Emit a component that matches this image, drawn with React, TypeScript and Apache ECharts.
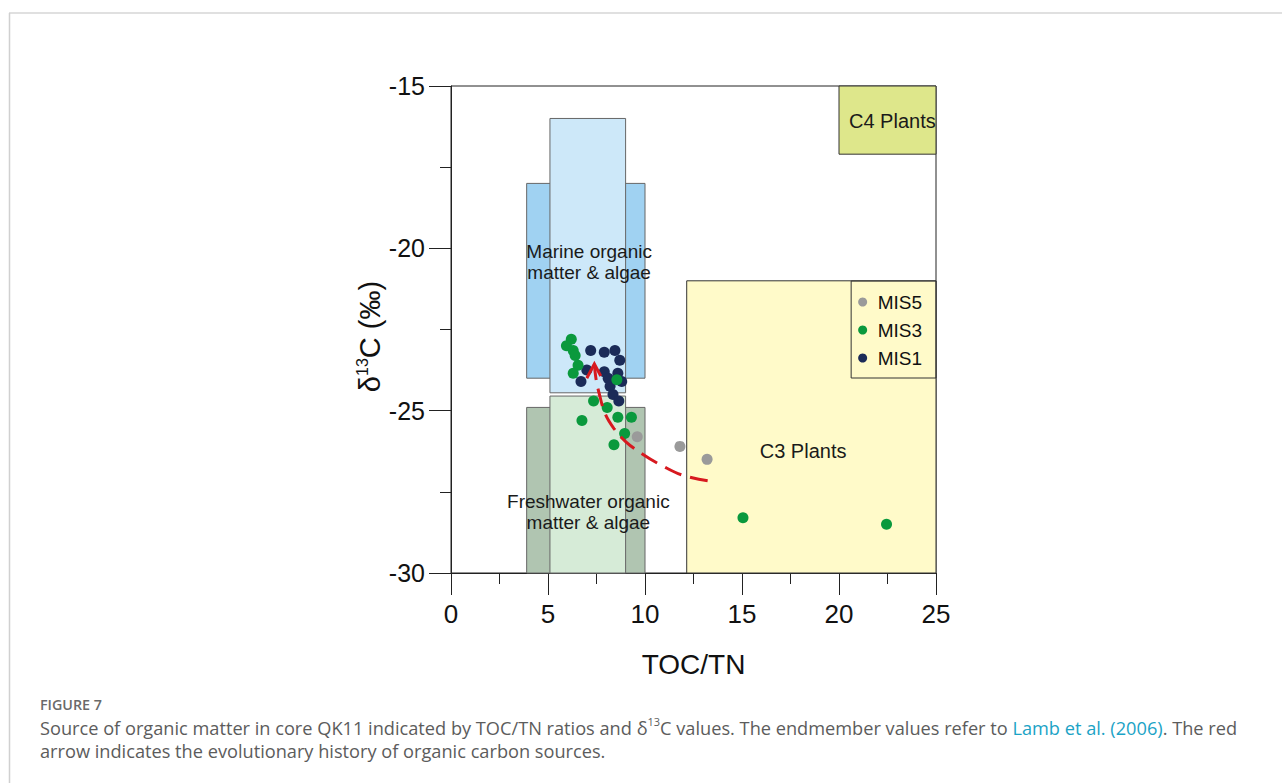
import React, { useEffect, useRef } from 'react';
import * as echarts from 'echarts';

// ---- Data ----
const mis5: number[][] = [[9.6, -25.8], [11.8, -26.1], [13.2, -26.5]];
const mis3: number[][] = [
  [6.2, -22.8], [5.95, -23.0], [6.3, -23.15], [6.4, -23.3], [6.55, -23.6], [6.3, -23.85],
  [8.55, -24.05], [7.35, -24.7], [8.05, -24.9], [6.75, -25.3], [8.6, -25.2], [9.3, -25.2],
  [8.95, -25.7], [8.4, -26.05], [15.05, -28.3], [22.45, -28.5],
];
const mis1: number[][] = [
  [7.2, -23.15], [7.9, -23.2], [8.45, -23.15], [8.7, -23.45], [7.0, -23.75], [7.9, -23.8],
  [8.6, -23.85], [6.7, -24.1], [8.1, -24.0], [8.8, -24.1], [8.2, -24.25], [8.35, -24.5], [8.65, -24.7],
];

// Endmember fields (Lamb et al., 2006)
const regionNames = ['C4 Plants', 'C3 Plants', 'Marine outer', 'Marine inner', 'Freshwater outer', 'Freshwater inner'];
const regionX1 = [20, 12.15, 3.9, 5.1, 3.9, 5.1];
const regionX2 = [25, 25, 10, 9, 10, 9];
const regionYLow = [-17.1, -30, -24, -24.45, -30, -30];
const regionYHigh = [-15, -21, -18, -16, -24.9, -24.55];
const regionColors = ['#dee78b', '#fffac9', '#a0d2f2', '#cde8f9', '#b0c5b1', '#d6ebd7'];
const regionStroke = ['#333333', '#333333', '#666666', '#666666', '#666666', '#666666'];

const labelTexts = ['Marine organic\nmatter & algae', 'Freshwater organic\nmatter & algae', 'C3 Plants', 'C4 Plants'];
const labelX = [7.12, 7.08, 18.15, 22.75];
const labelY = [-20.42, -28.12, -26.25, -16.08];
const labelFontSizes = [19, 19, 20, 20];

// Red arrow: evolution path (start -> tip) and arrow head
const arrowPath: number[][] = [
  [13.23, -27.16], [11.9, -26.98], [10.9, -26.7], [9.9, -26.35], [9.0, -25.95],
  [8.4, -25.55], [7.95, -25.1], [7.65, -24.5], [7.47, -24.0], [7.39, -23.56],
];
const arrowHead: number[][] = [[7.0, -24.0], [7.39, -23.56], [7.72, -23.93]];

const xMin = 0, xMax = 25, xInterval = 5;
const yMin = -30, yMax = -15, yInterval = 5;

const ARIAL = '"Liberation Sans", Arial, Helvetica, sans-serif';
const OPEN = '"Open Sans", "Noto Sans", sans-serif';

export default function App() {
  const ref = useRef<HTMLDivElement>(null);

  useEffect(() => {
    document.body.style.margin = '0';
    document.body.style.overflow = 'hidden';
    if (!ref.current) return;
    const chart = echarts.init(ref.current, undefined, { renderer: 'svg' });

    const regionData = regionNames.map((_, i) => [regionX1[i], regionX2[i], regionYLow[i], regionYHigh[i]]);
    const labelData = labelTexts.map((_, i) => [labelX[i], labelY[i]]);

    const option: any = {
      animation: false,
      backgroundColor: '#ffffff',
      grid: {
        left: 451, top: 86, width: 485, height: 487,
        show: true, borderColor: '#222', borderWidth: 1, backgroundColor: 'transparent',
      },
      legend: {
        data: ['MIS5', 'MIS3', 'MIS1'],
        orient: 'vertical',
        right: 346,
        top: 281,
        icon: 'circle',
        itemWidth: 20,
        itemHeight: 9,
        itemGap: 8,
        padding: [11, 14, 10, 7],
        borderColor: '#333',
        borderWidth: 1,
        borderRadius: 0,
        textStyle: { fontSize: 19, fontFamily: ARIAL, color: '#111', lineHeight: 20 },
      },
      xAxis: {
        type: 'value',
        min: xMin, max: xMax, interval: xInterval,
        name: 'TOC/TN',
        nameLocation: 'middle',
        nameGap: 77,
        nameTextStyle: { fontSize: 28, fontFamily: ARIAL, color: '#111' },
        axisLine: { show: true, onZero: false, lineStyle: { color: '#222', width: 1 } },
        axisTick: { show: true, inside: false, length: 22, lineStyle: { color: '#222', width: 1 } },
        minorTick: { show: true, splitNumber: 2, length: 11, lineStyle: { color: '#222', width: 1 } },
        splitLine: { show: false },
        minorSplitLine: { show: false },
        axisLabel: { fontSize: 26, fontFamily: ARIAL, color: '#111', margin: 28 },
      },
      yAxis: {
        type: 'value',
        min: yMin, max: yMax, interval: yInterval,
        name: '{d|δ}{s|13}{d|C (‰)}',
        nameLocation: 'middle',
        nameGap: 62,
        nameTextStyle: {
          fontSize: 29, fontFamily: ARIAL, color: '#111',
          padding: [0, 14, 0, 0],
          rich: {
            d: { fontSize: 29, fontFamily: ARIAL, color: '#111', lineHeight: 31 },
            s: { fontSize: 16, fontFamily: ARIAL, color: '#111', verticalAlign: 'top', lineHeight: 16 },
          },
        },
        axisLine: { show: true, onZero: false, lineStyle: { color: '#222', width: 1 } },
        axisTick: { show: true, inside: false, length: 22, lineStyle: { color: '#222', width: 1 } },
        minorTick: { show: true, splitNumber: 2, length: 11, lineStyle: { color: '#222', width: 1 } },
        splitLine: { show: false },
        minorSplitLine: { show: false },
        axisLabel: { fontSize: 25, fontFamily: ARIAL, color: '#111', margin: 26 },
      },
      series: [
        {
          name: 'regions',
          type: 'custom',
          silent: true,
          data: regionData,
          encode: { x: [0, 1], y: [2, 3] },
          renderItem: (params: any, api: any) => {
            const p1 = api.coord([api.value(0), api.value(3)]);
            const p2 = api.coord([api.value(1), api.value(2)]);
            const i = params.dataIndex;
            return {
              type: 'rect',
              shape: { x: p1[0], y: p1[1], width: p2[0] - p1[0], height: p2[1] - p1[1] },
              style: { fill: regionColors[i], stroke: regionStroke[i], lineWidth: 1 },
            };
          },
          z: 1,
        },
        {
          name: 'region labels',
          type: 'custom',
          silent: true,
          data: labelData,
          encode: { x: 0, y: 1 },
          renderItem: (params: any, api: any) => {
            const p = api.coord([api.value(0), api.value(1)]);
            const fs = labelFontSizes[params.dataIndex];
            return {
              type: 'text',
              x: p[0],
              y: p[1],
              style: {
                text: labelTexts[params.dataIndex],
                fill: '#1a1a1a',
                fontSize: fs,
                fontFamily: ARIAL,
                align: 'center',
                verticalAlign: 'middle',
                lineHeight: 21.5,
              },
            };
          },
          z: 2,
        },
        {
          name: 'MIS1', type: 'scatter', data: mis1, symbol: 'circle', symbolSize: 11,
          itemStyle: { color: '#1b2b58', opacity: 1 }, z: 3,
        },
        {
          name: 'MIS3', type: 'scatter', data: mis3, symbol: 'circle', symbolSize: 11,
          itemStyle: { color: '#0a993d', opacity: 1 }, z: 4,
        },
        {
          name: 'MIS5', type: 'scatter', data: mis5, symbol: 'circle', symbolSize: 11,
          itemStyle: { color: '#9a9a9a', opacity: 1 }, z: 4,
        },
        {
          name: 'arrow path', type: 'line', data: arrowPath, smooth: 0.4, symbol: 'none',
          lineStyle: { color: '#d7191f', width: 3, type: [18, 9] }, z: 5, silent: true,
        },
        {
          name: 'arrow head', type: 'line', data: arrowHead, symbol: 'none',
          lineStyle: { color: '#d7191f', width: 3, type: 'solid', join: 'miter' }, z: 5, silent: true,
        },
      ],
      graphic: [
        { type: 'line', shape: { x1: 9, y1: 13, x2: 1282, y2: 13 }, style: { stroke: '#d6d6d6', lineWidth: 1.5 } },
        { type: 'line', shape: { x1: 9.5, y1: 13, x2: 9.5, y2: 783 }, style: { stroke: '#d0d0d0', lineWidth: 1.5 } },
        {
          type: 'text', x: 40, y: 704,
          style: { text: 'FIGURE 7', fill: '#6a6a6a', fontSize: 14.3, fontWeight: 600, fontFamily: OPEN, verticalAlign: 'middle' },
        },
        {
          type: 'text', x: 40, y: 728,
          style: {
            text: '{n|Source of organic matter in core QK11 indicated by TOC/TN ratios and δ}{s|13}{n|C values. The endmember values refer to }{l|Lamb et al. (2006)}{n|. The red}',
            verticalAlign: 'middle',
            rich: {
              n: { fontSize: 18.2, fontFamily: OPEN, fill: '#5c5c5c', color: '#5c5c5c', lineHeight: 24 },
              s: { fontSize: 11, fontFamily: OPEN, fill: '#5c5c5c', color: '#5c5c5c', verticalAlign: 'top', lineHeight: 11 },
              l: { fontSize: 18.2, fontFamily: OPEN, fill: '#1ba3c6', color: '#1ba3c6', lineHeight: 24 },
            },
          },
        },
        {
          type: 'text', x: 40, y: 751,
          style: {
            text: 'arrow indicates the evolutionary history of organic carbon sources.',
            fill: '#5c5c5c', fontSize: 18.2, fontFamily: OPEN, verticalAlign: 'middle',
          },
        },
      ],
    };

    chart.setOption(option);
    return () => chart.dispose();
  }, []);

  return <div ref={ref} style={{ width: 1282, height: 783 }} />;
}
